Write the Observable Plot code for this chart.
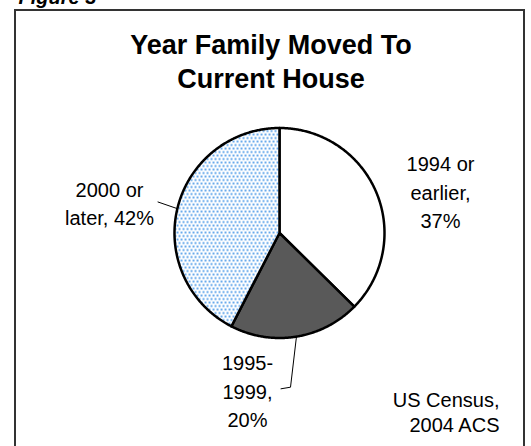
<!DOCTYPE html>
<html>
<head>
<meta charset="utf-8">
<script src="https://cdn.jsdelivr.net/npm/d3@7"></script>
<script src="https://cdn.jsdelivr.net/npm/@observablehq/plot@0.6"></script>
<style>
  html, body { margin: 0; padding: 0; background: #fff; }
  #wrap { position: relative; width: 531px; height: 446px; overflow: hidden; font-family: "Liberation Sans", Arial, sans-serif; }
  #frame { position: absolute; left: 14px; top: 9px; width: 511px; height: 500px; box-sizing: border-box;
           border: 2px solid #333; border-bottom: none; pointer-events: none; }
  #chart { position: absolute; left: 0; top: 0; }
</style>
</head>
<body>
<div id="wrap"><div id="chart"></div><div id="frame"></div></div>
<script>
// ---- data ----
const figureLabel = "Figure 3";
const titleLines = ["Year Family Moved To", "Current House"];
const categories = ["1994 or earlier", "1995-1999", "2000 or later"];
const values = [37, 20, 42];
const labelHeads = [["1994 or", "earlier,"], ["1995-", "1999,"], ["2000 or", "later,"]];
const sourceLines = ["US Census,", "2004 ACS"];

// ---- layout / style ----
const W = 531, H = 446;
const cx = 279, cy = 232.5, R = 105;
const fills = ["#ffffff", "#595959", "url(#dots)"];
const labelPos = [
  {x: 440, y: 190, joinLast: false},
  {x: 247, y: 389, joinLast: false},
  {x: 109, y: 201.5, joinLast: true}
];
// leader lines: from pie edge angle (deg, clockwise from top) to label-side points
const leaders = [
  null,
  {angle: 170.7, pts: [[290, 386.7], [280.5, 388.3]]},
  {angle: 283.4, pts: [[157.5, 201.5]]}
];

// pie geometry from the data
const arcs = d3.pie().sort(null).startAngle(0).endAngle(2 * Math.PI)(values);
const polys = arcs.map((a, i) => {
  const pts = [{slice: i, x: cx, y: cy}];
  const n = Math.max(2, Math.ceil((a.endAngle - a.startAngle) / (Math.PI / 360)));
  for (let k = 0; k <= n; k++) {
    const t = a.startAngle + (a.endAngle - a.startAngle) * k / n;
    pts.push({slice: i, x: cx + R * Math.sin(t), y: cy - R * Math.cos(t)});
  }
  return pts;
});

const leaderPts = [];
leaders.forEach((l, i) => {
  if (!l) return;
  const t = l.angle * Math.PI / 180;
  leaderPts.push({id: i, x: cx + R * Math.sin(t), y: cy - R * Math.cos(t)});
  l.pts.forEach(p => leaderPts.push({id: i, x: p[0], y: p[1]}));
});

const labels = categories.map((c, i) => {
  const pct = values[i] + "%";
  const head = labelHeads[i].slice();
  let text;
  if (labelPos[i].joinLast) { head[head.length - 1] += " " + pct; text = head.join("\n"); }
  else text = [...head, pct].join("\n");
  return {text, x: labelPos[i].x, y: labelPos[i].y};
});

const titleData = titleLines.map((t, i) => ({text: t, x: 270.5, y: 45 + i * 34}));

const font = "Liberation Sans, Arial, sans-serif";

const plot = Plot.plot({
  width: W, height: H,
  margin: 0,
  x: {domain: [0, W], range: [0, W], axis: null},
  y: {domain: [0, H], range: [0, H], axis: null},
  style: {fontFamily: font, background: "transparent", overflow: "hidden"},
  marks: [
    ...polys.map((p, i) => Plot.line(p, {x: "x", y: "y", curve: "linear-closed", fill: fills[i], stroke: "#000", strokeWidth: 2.5, strokeLinejoin: "round"})),
    Plot.line(leaderPts, {x: "x", y: "y", z: "id", stroke: "#000", strokeWidth: 1}),
    Plot.text(labels, {x: "x", y: "y", text: "text", fontSize: 20, lineHeight: 1.42, lineAnchor: "middle", textAnchor: "middle", fill: "#000"}),
    Plot.text(titleData, {x: "x", y: "y", text: "text", fontSize: 27, fontWeight: "bold", lineAnchor: "middle", textAnchor: "middle", fill: "#000"}),
    Plot.text([sourceLines.join("\n")], {x: () => 499, y: () => 410.5, text: d => d, fontSize: 20, lineHeight: 1.25, lineAnchor: "middle", textAnchor: "end", fill: "#000"}),
    Plot.text([figureLabel], {x: () => 18, y: () => -3, text: d => d, fontSize: 20, fontWeight: "bold", fontStyle: "italic", lineAnchor: "middle", textAnchor: "start", fill: "#000"})
  ]
});

// dotted pattern for the "2000 or later" slice
const svg = d3.select(plot);
const defs = svg.insert("defs", ":first-child");
const pat = defs.append("pattern").attr("id", "dots").attr("patternUnits", "userSpaceOnUse")
  .attr("width", 4).attr("height", 7);
pat.append("rect").attr("width", 4).attr("height", 7).attr("fill", "#fff");
pat.append("rect").attr("x", 0.2).attr("y", 0.2).attr("width", 1.7).attr("height", 1.7).attr("fill", "#2f8ae4");
pat.append("rect").attr("x", 2.2).attr("y", 3.7).attr("width", 1.7).attr("height", 1.7).attr("fill", "#2f8ae4");

document.getElementById("chart").appendChild(plot);
</script>
</body>
</html>
